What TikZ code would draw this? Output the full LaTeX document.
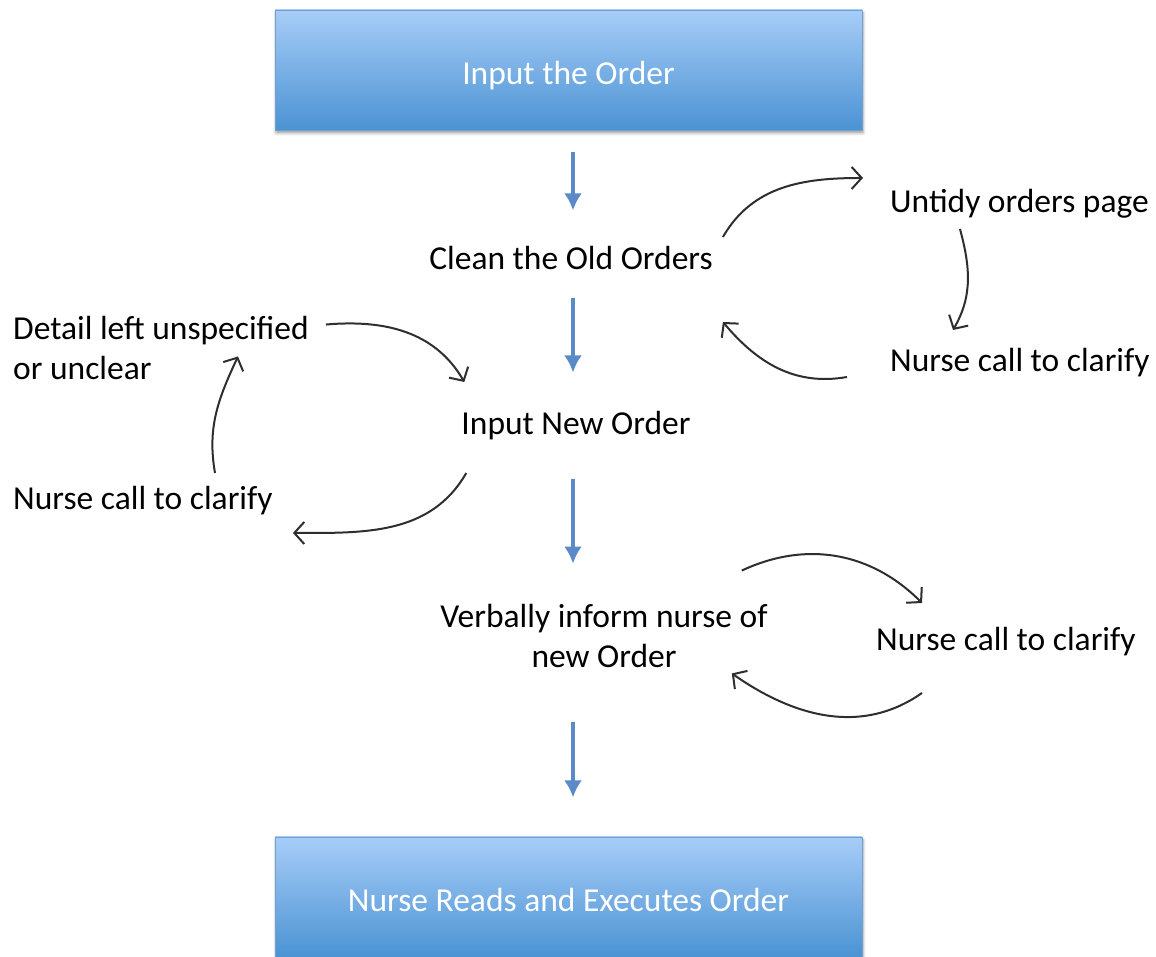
\documentclass[tikz,border=0pt]{standalone}
\usepackage{fontspec}
\setmainfont{Carlito}
\usetikzlibrary{arrows.meta,shadows.blur}
\definecolor{boxtop}{HTML}{A7CDF8}
\definecolor{boxbot}{HTML}{4B93D3}
\definecolor{boxrand}{HTML}{6F9FD3}
\definecolor{flowblue}{HTML}{5A8BC8}
\definecolor{kurve}{HTML}{2E2E2E}
\newcommand{\txt}{\fontsize{33.5}{40}\selectfont}
\tikzset{stufe/.style={rectangle,draw=boxrand,line width=0.8pt,top color=boxtop,bottom color=boxbot,
    minimum width=587,minimum height=120,text=white,font=\txt,text height=37pt,text depth=7pt,
    blur shadow={shadow xshift=1pt,shadow yshift=-3pt,shadow blur radius=3pt,shadow opacity=40}},
  etikett/.style={inner sep=0,font=\txt,text=black},
  fluss/.style={flowblue,line width=4pt,-{Latex[length=17pt,width=18pt]}},
  rueck/.style={kurve,line width=2pt,-{Straight Barb[length=10pt,width=22pt,line width=2pt]}}}

\begin{document}
\begin{tikzpicture}[x=1pt,y=1pt]
\useasboundingbox (0,0) rectangle (1156,957);
\node[stufe] (eingabe) at (568.5,887) {Input the Order};
\node[stufe] (ausfuehren) at (568.5,60) {Nurse Reads and Executes Order};
\node[etikett,anchor=base] (clean) at (571,687) {Clean the Old Orders};
\node[etikett,anchor=base] (neu) at (576,522) {Input New Order};
\node[etikett,anchor=base,align=center] (verbal) at (604,289) {Verbally inform nurse of\\new Order};
\node[etikett,anchor=base west] (untidy) at (890,744) {Untidy orders page};
\node[etikett,anchor=base west] (rufoben) at (890,585) {Nurse call to clarify};
\node[etikett,anchor=base west,align=left] (detail) at (13,577) {Detail left unspecified\\or unclear};
\node[etikett,anchor=base west] (rufli) at (13,447) {Nurse call to clarify};
\node[etikett,anchor=base west] (rufunten) at (876,306) {Nurse call to clarify};
\coordinate (achse) at (573,0);
\draw[fluss] ([yshift=-22]eingabe.south -| achse) -- ++(0,-58);
\draw[fluss] ([yshift=-28]clean.south -| achse) -- ++(0,-74);
\draw[fluss] ([yshift=-38]neu.south -| achse) -- ++(0,-85);
\draw[fluss] ([yshift=-54]verbal.south -| achse) -- ++(0,-75);
\draw[rueck] ([shift={(10,33)}]clean.base east) to[out=60,in=180] ([shift={(-27,35)}]untidy.base west);
\draw[rueck] ([shift={(70,-16)}]untidy.base west) to[out=-75,in=60] ([shift={(63,42)}]rufoben.base west);
\draw[rueck] ([shift={(-43,-5)}]rufoben.base west) to[out=190,in=-50] ([shift={(10,-52)}]clean.base east);
\draw[rueck] ([shift={(17,-8)}]detail.north east) to[out=5,in=120] ([shift={(3,53)}]neu.base west);
\draw[rueck] ([shift={(5,-38)}]neu.base west) to[out=-120,in=0] ([shift={(20,-23)}]rufli.base east);
\draw[rueck] ([shift={(202,37)}]rufli.base west) to[out=100,in=-115] ([shift={(225,24)}]detail.south west);
\draw[rueck] ([shift={(-26,34)}]verbal.north east) to[out=25,in=135] ([shift={(46,48)}]rufunten.base west);
\draw[rueck] ([shift={(46,-42)}]rufunten.base west) to[out=-145,in=-35] ([shift={(-36,-5)}]verbal.south east);
\end{tikzpicture}
\end{document}
